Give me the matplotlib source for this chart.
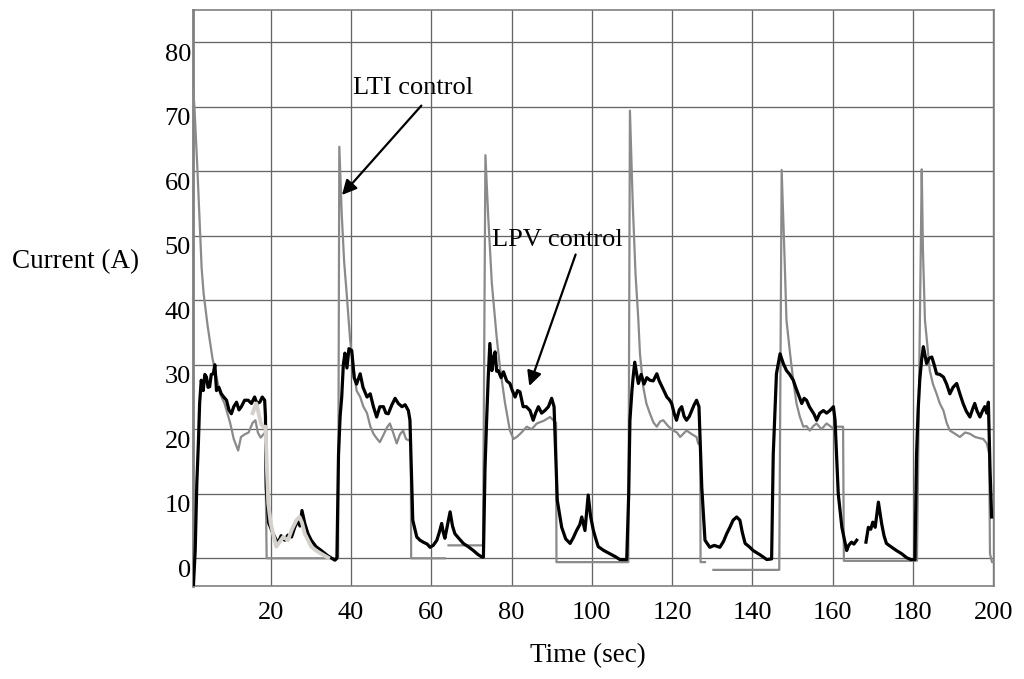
import matplotlib.pyplot as plt
import matplotlib.transforms as mtransforms
import numpy as np

nan = np.nan

# LTI control (gray trace) - time (sec), current (A)
t_lti = [0.7, 1.0, 1.7, 2.4, 2.8, 3.3, 4.3, 5.5, 6.2, 7.4, 8.5, 9.9, 10.8, 11.9, 12.6, 13.5,
         14.5, 15.5, 16.2, 16.8, 17.5, 18.6, 19.0, 36.6,
         36.8, 37.1, 37.7, 38.3, 39.0, 39.8, 40.6, 41.4, 42.3, 43.1, 44.0, 44.8, 45.6, 46.4,
         47.2, 48.0, 49.0, 49.7, 50.5, 51.4, 52.2, 53.0, 53.7, 54.3, 54.9, 55.0, 63.4, 63.9,
         64.3, 72.9,
         73.5, 74.2, 75.1, 76.3, 77.1, 78.4, 79.6, 80.5, 81.3, 82.5, 83.8, 85.0, 86.3, 88.0,
         89.6, 90.4, 91.1, 91.2, 109.1,
         109.5, 110.2, 110.9, 111.6, 112.0, 112.8, 113.6, 114.5, 115.4, 116.2, 117.0, 117.8,
         119.0, 120.3, 121.2, 122.0, 123.6, 125.0, 126.1, 126.5, 127.0, 127.1, 128.2, 129.2,
         130.3, 146.7,
         147.3, 148.0, 148.5, 149.4, 150.2, 151.0, 151.8, 152.7, 153.5, 154.3, 155.2, 156.0,
         157.2, 158.5, 160.0, 161.0, 162.6, 162.8, 181.0,
         182.2, 182.5, 183.0, 184.2, 185.0, 185.9, 186.7, 187.6, 188.4, 189.2, 190.5, 191.7,
         193.0, 194.2, 195.5, 196.7, 197.5, 198.4, 199.0, 199.2, 199.7, 200.2]
i_lti = [72.6, 70.0, 61.0, 51.0, 45.0, 41.0, 36.0, 31.0, 29.0, 25.5, 24.0, 21.0, 18.5, 16.7, 18.8, 19.2,
         19.5, 21.0, 21.4, 19.5, 18.7, 19.5, 0.0, 0.0,
         0.0, 63.8, 53.4, 46.0, 40.5, 33.8, 29.7, 26.0, 25.0, 23.5, 22.5, 20.5, 19.3, 18.6,
         18.0, 19.0, 20.3, 20.9, 19.5, 17.8, 19.2, 19.8, 18.5, 18.3, 18.5, 0.0, 0.0, nan,
         2.0, 2.0,
         62.5, 52.9, 42.6, 34.3, 29.7, 24.0, 19.8, 18.5, 18.8, 19.5, 20.4, 20.0, 20.9, 21.3,
         21.9, 21.4, 21.0, -0.6, -0.6,
         69.4, 55.0, 44.0, 36.9, 31.7, 26.6, 24.0, 22.4, 21.0, 20.4, 21.2, 21.4,
         20.5, 19.8, 19.5, 18.8, 19.8, 19.2, 18.8, 17.8, 17.5, -0.6, -0.6, nan,
         -1.8, -1.8,
         60.2, 47.0, 36.9, 31.7, 27.5, 24.0, 22.0, 20.4, 20.5, 19.8, 20.5, 20.9,
         20.0, 20.9, 20.2, 20.4, 20.4, -0.4, -0.4,
         60.3, 47.7, 36.9, 29.1, 27.0, 25.5, 24.0, 22.9, 21.0, 19.8, 19.3, 18.8,
         19.5, 19.3, 18.8, 18.6, 18.5, 17.8, 16.2, 0.7, -0.6, -0.6]

# LPV control (black trace)
t_lpv = [0.75, 1.2, 1.6, 2.0, 2.3, 2.7, 3.2, 3.6, 4.0, 4.4, 4.8, 5.2, 5.7, 6.1, 6.5, 7.1, 7.7,
         8.3, 9.0, 9.6, 10.2, 10.8, 11.5, 12.1, 12.7, 13.5, 14.4, 15.2, 16.0, 16.6, 17.3, 17.9,
         18.5, 18.7, 18.9, 19.5, 20.6, 21.8, 22.6, 23.5, 24.3, 25.2, 26.0, 26.8, 27.3, 27.8,
         28.5, 29.3, 30.1, 31.3, 32.6, 34.2, 35.2, 36.0, 36.5,
         36.9, 37.3, 37.7, 38.1, 38.5, 39.0, 39.5, 40.2, 40.8, 41.4, 42.3, 43.0, 44.0, 44.8,
         45.6, 46.4, 47.2, 48.1, 48.7, 49.3, 50.2, 51.0, 51.8, 52.7, 53.5, 54.3, 54.7, 55.4,
         56.4, 57.2, 58.0, 59.0, 59.7, 60.5, 61.4, 62.0, 62.6, 63.0, 63.4, 64.0, 64.7, 65.3,
         65.9, 67.0, 68.0, 69.2, 70.5, 71.6, 72.6, 73.0,
         73.4, 73.8, 74.2, 74.6, 75.1, 75.5, 75.9, 76.3, 76.7, 77.4, 78.0, 78.8, 79.6, 80.2,
         80.9, 81.5, 82.1, 82.9, 83.7, 84.6, 85.4, 86.0, 86.7, 87.5, 88.3, 89.2, 90.0, 90.6,
         91.4, 92.5, 93.5, 94.6, 95.4, 96.2, 97.0, 97.5, 98.3, 99.1, 99.7, 100.4, 101.0, 101.6,
         103.0, 104.5, 106.0, 107.0, 108.7,
         109.2, 109.5, 110.0, 110.3, 110.7, 111.2, 111.6, 112.3, 113.0, 113.7, 114.5, 115.3,
         116.2, 116.8, 117.5, 118.1, 118.7, 119.3, 119.9, 120.5, 121.1, 121.8, 122.4, 123.0,
         123.6, 124.3, 124.9, 125.5, 126.1, 126.7, 127.4, 128.2, 129.4, 130.5, 131.9, 132.8,
         133.6, 134.4, 135.2, 136.1, 136.9, 137.5, 138.2, 139.2, 140.2, 142.0, 143.6, 144.8,
         145.2, 146.0, 146.9, 147.7, 148.5, 149.3, 150.2, 150.8, 151.4, 152.3, 152.9, 153.5,
         154.2, 154.8, 155.4, 156.0, 156.8, 157.7, 158.5, 159.3, 160.2, 160.6, 161.4, 162.3,
         163.5, 164.0, 164.7, 165.3, 166.0, 166.8, 168.3, 168.9, 169.5, 170.0, 170.6, 171.4,
         171.8, 172.2, 172.8, 173.4, 174.5, 175.9, 177.2, 178.4, 179.5, 180.5,
         180.9, 181.3, 181.7, 182.2, 182.6, 183.0, 183.4, 184.0, 184.7, 185.3, 185.9, 186.7,
         187.6, 188.4, 189.2, 190.0, 190.9, 191.7, 192.5, 193.3, 194.2, 194.8, 195.4, 196.0,
         196.7, 197.3, 197.9, 198.4, 198.8, 199.2, 199.6]
i_lpv = [-4.3, 1.2, 11.6, 18.0, 24.0, 27.6, 26.0, 28.5, 28.1, 26.5, 26.6, 28.5, 28.6, 30.0, 26.0, 26.5, 25.5,
         25.0, 24.5, 23.0, 22.4, 23.5, 24.2, 23.0, 23.5, 24.5, 24.5, 24.0, 25.0, 24.0, 24.2, 25.0,
         24.5, 22.0, 11.0, 5.5, 3.8, 2.3, 3.5, 2.8, 3.6, 3.3, 4.8, 5.9, 5.0, 7.4,
         5.4, 3.8, 2.8, 1.8, 1.2, 0.4, 0.0, -0.3, 0.0,
         16.0, 22.0, 25.0, 30.0, 31.8, 29.5, 32.5, 32.2, 28.0, 27.0, 28.6, 26.5, 25.0, 25.5,
         23.5, 21.9, 23.5, 23.5, 22.5, 22.4, 23.8, 24.8, 24.0, 23.5, 23.8, 22.9, 21.4, 5.9,
         3.3, 2.8, 2.5, 2.2, 1.7, 2.0, 2.8, 4.0, 5.4, 4.0, 3.1, 5.0, 7.2, 5.0,
         3.8, 3.0, 2.3, 1.8, 1.2, 0.6, 0.2, 0.2,
         14.0, 21.4, 28.0, 33.3, 29.1, 31.0, 32.0, 29.0, 29.1, 28.0, 28.9, 27.5, 27.1, 26.0,
         25.0, 26.0, 25.8, 23.5, 23.5, 22.9, 21.4, 22.5, 23.5, 22.5, 22.9, 23.5, 24.8, 23.5,
         9.0, 4.8, 3.0, 2.3, 3.2, 4.3, 5.2, 6.4, 4.3, 9.8, 6.5, 4.3, 3.0, 1.8,
         1.2, 0.7, 0.2, -0.2, -0.2,
         10.0, 21.4, 26.0, 28.1, 30.4, 28.5, 27.1, 28.5, 27.0, 28.0, 27.6, 27.5,
         28.6, 27.5, 26.6, 25.8, 25.0, 24.6, 24.0, 22.5, 21.4, 23.0, 23.5, 22.0,
         21.4, 22.0, 22.9, 23.8, 24.5, 23.5, 11.0, 2.8, 1.7, 2.0, 1.7, 2.6,
         3.8, 4.8, 5.9, 6.4, 5.9, 4.0, 2.3, 1.8, 1.2, 0.5, -0.2, -0.1,
         16.0, 28.6, 31.7, 30.2, 29.1, 28.5, 27.6, 26.5, 25.5, 24.0, 24.8, 24.5,
         23.5, 22.9, 22.3, 21.4, 22.5, 22.9, 22.5, 22.9, 23.5, 21.4, 10.0, 4.8,
         1.2, 2.0, 2.5, 2.2, 2.8, nan, 2.5, 4.8, 4.5, 5.6, 4.8, 8.7,
         7.0, 5.4, 3.5, 2.3, 1.8, 1.2, 0.7, 0.1, -0.2, -0.2,
         16.0, 23.0, 27.6, 31.0, 32.8, 31.5, 30.2, 31.0, 31.2, 30.0, 28.6, 28.5,
         28.1, 27.0, 25.5, 26.5, 27.1, 25.5, 24.0, 22.8, 21.9, 23.0, 24.0, 22.8,
         21.9, 22.8, 23.5, 22.5, 24.2, 14.0, 6.4]

# light gray trace (first cycle only)
t_ref = [15.5, 16.4, 17.0, 17.5, 18.1, 18.7, 19.0, 19.4, 20.0, 20.6, 21.4, 22.2, 23.1, 24.3,
         25.3, 26.4, 27.2, 27.8, 28.5, 29.3, 30.1, 31.3, 32.6, 34.3]
i_ref = [22.5, 24.0, 22.5, 21.0, 20.4, 20.4, 15.0, 8.5, 5.5, 3.8, 1.8, 2.5, 3.3, 2.8,
         4.5, 5.9, 6.4, 5.5, 3.8, 2.8, 1.8, 1.2, 0.7, 0.1]

x_ticks = [20, 40, 60, 80, 100, 120, 140, 160, 180, 200]
y_ticks = [0, 10, 20, 30, 40, 50, 60, 70, 80]

plt.rcParams['font.family'] = ['Liberation Serif', 'DejaVu Serif']
FS = 19

fig = plt.figure(figsize=(10.24, 6.79), dpi=100, facecolor='white')
ax = fig.add_axes([193 / 1024, 1 - 586 / 679, (994 - 193) / 1024, (586 - 10) / 679])

ax.plot(t_lti, i_lti, color='#8a8a8a', lw=1.6, zorder=3)
ax.plot(t_lpv, i_lpv, color='black', lw=2.3, zorder=4)
ax.plot(t_ref, i_ref, color='#d4d0cb', lw=2.8, zorder=5)

ax.set_xlim(0.65, 200.2)
ax.set_ylim(-4.3, 85)
ax.set_xticks(x_ticks)
ax.set_yticks(y_ticks)
ax.grid(True, color='#666666', lw=0.95)
ax.set_axisbelow(True)
for s in ax.spines.values():
    s.set_color('#808080')
    s.set_linewidth(1.2)
ax.spines['left'].set_linewidth(2.0)

ax.tick_params(axis='both', length=0, labelsize=FS)
ax.tick_params(axis='x', pad=11.5)
ax.tick_params(axis='y', pad=1.5)
# the value labels sit a little below their grid lines
shift = mtransforms.ScaledTranslation(0, -0.10, fig.dpi_scale_trans)
for lbl in ax.get_yticklabels():
    lbl.set_transform(lbl.get_transform() + shift)

# annotations
ax.text(40.5, 72.9, 'LTI control', fontsize=FS, va='center', ha='left')
ax.annotate('', xy=(37.3, 56.0), xytext=(58.0, 70.5),
            arrowprops=dict(arrowstyle='-|>', color='black', lw=1.6, mutation_scale=22))
ax.text(75.1, 49.3, 'LPV control', fontsize=FS, va='center', ha='left')
ax.annotate('', xy=(84.2, 26.3), xytext=(96.2, 47.5),
            arrowprops=dict(arrowstyle='-|>', color='black', lw=1.6, mutation_scale=22))

fig.text(588 / 1024, 1 - 656 / 679, 'Time (sec)', fontsize=FS + 0.5, ha='center', va='center')
fig.text(12 / 1024, 1 - 262 / 679, 'Current (A)', fontsize=FS + 0.5, ha='left', va='center')

fig.savefig('out.png', dpi=100, facecolor='white')
